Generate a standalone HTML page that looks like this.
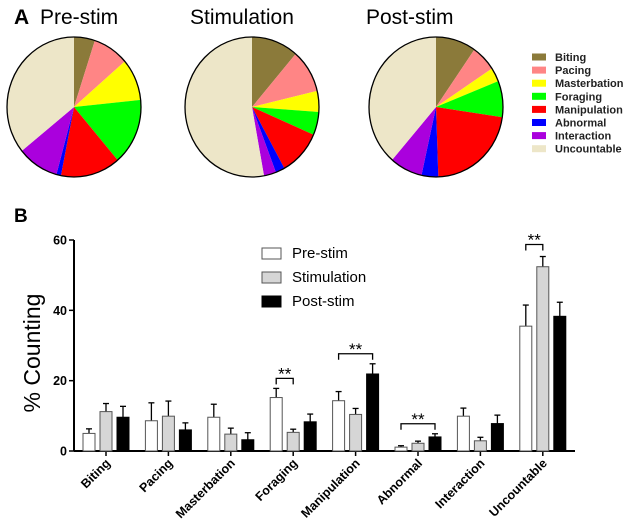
<!DOCTYPE html>
<html><head><meta charset="utf-8"><style>
body{margin:0;background:#fff;}
svg{display:block;font-family:"Liberation Sans",Arial,sans-serif;}
</style></head><body>
<svg id="c" width="625" height="529" viewBox="0 0 625 529">
<text x="14" y="24" font-size="21" font-weight="bold">A</text>
<text x="14" y="222" font-size="19" font-weight="bold">B</text>
<g id="pies"></g>
<g id="plegend"></g>
<g id="bars"></g>
</svg>
<script>
const behaviors=["Biting","Pacing","Masterbation","Foraging","Manipulation","Abnormal","Interaction","Uncountable"];
const sliceColors=["#8b7a3a","#ff8585","#ffff00","#00ff00","#ff0000","#0000ff","#aa00dd","#ede6c8"];
const pieTitles=["Pre-stim","Stimulation","Post-stim"];
const piePre=[5,8.6,9.6,15.2,14.3,1.1,9.9,35.5];
const pieStim=[11.2,9.9,4.8,5.3,10.4,2.2,2.9,52.4];
const piePost=[9.6,6,3.2,8.3,21.9,4,7.8,38.3];
const seriesNames=["Pre-stim","Stimulation","Post-stim"];
const meanPre=[5,8.6,9.6,15.2,14.3,1.1,9.9,35.5];
const errPre=[6.3,13.7,13.3,17.8,16.9,1.5,12.2,41.5];
const meanStim=[11.2,9.9,4.8,5.3,10.4,2.2,2.9,52.4];
const errStim=[13.5,14.2,6.5,6.2,12.1,2.8,3.9,55.3];
const meanPost=[9.6,6,3.2,8.3,21.9,4,7.8,38.3];
const errPost=[12.7,8,5.2,10.5,24.8,4.9,10.2,42.3];
const yTicks=[0,20,40,60];
// significance: [categoryIndex, seriesA, seriesB]
const sigPairs=[[3,0,1],[4,0,2],[5,0,2],[7,0,1]];

const NS="http://www.w3.org/2000/svg";
function mk(tag,attrs,parent){const e=document.createElementNS(NS,tag);for(const k in attrs)e.setAttribute(k,attrs[k]);parent.appendChild(e);return e;}

// pies
const pies=document.getElementById('pies');
const pieData=[piePre,pieStim,piePost];
const pieCx=[74,252,436],pieCy=107,rx=67,ry=70;
const titleX=[40,190,366];
pieData.forEach((d,pi)=>{
  const g=mk('g',{},pies);
  
  
  const t=mk('text',{x:titleX[pi],y:24,'font-size':21},g);t.textContent=pieTitles[pi];
  
  
  const tot=d.reduce((a,b)=>a+b,0);let a0=0;const cx=pieCx[pi];
  d.forEach((v,i)=>{
    const a1=a0+v/tot*2*Math.PI;
    const x0=cx+rx*Math.sin(a0),y0=pieCy-ry*Math.cos(a0),x1=cx+rx*Math.sin(a1),y1=pieCy-ry*Math.cos(a1);
    const p=mk('path',{d:`M${cx},${pieCy}L${x0},${y0}A${rx},${ry} 0 ${a1-a0>Math.PI?1:0} 1 ${x1},${y1}Z`,fill:sliceColors[i]},g);
    
    
    a0=a1;
  });
  mk('ellipse',{cx:cx,cy:pieCy,rx:rx,ry:ry,fill:'none',stroke:'#000','stroke-width':1.3},g);
});
const pl=document.getElementById('plegend');
behaviors.forEach((b,i)=>{
  const y=57+i*13.1;
  const r=mk('rect',{x:532,y:y-3.5,width:14,height:7,fill:sliceColors[i]},pl);
  
  
  const t=mk('text',{x:555,y:y+4,'font-size':11,'font-weight':'bold',fill:'#222'},pl);t.textContent=b;
  
  
});

// bars
const bg=document.getElementById('bars');
const X0=74,XEND=575,Y0=451,Y60=240;
const yS=v=>Y0-(Y0-Y60)*v/60;
const xC=i=>106+i*62.4;
const offs=[-17,0,17],bw=12;
const fills=["#fff","#d6d6d6","#000"];
const means=[meanPre,meanStim,meanPost],errs=[errPre,errStim,errPost];
mk('line',{x1:X0,y1:Y60,x2:X0,y2:Y0,stroke:'#000','stroke-width':2},bg);
mk('line',{x1:X0,y1:Y0,x2:XEND,y2:Y0,stroke:'#000','stroke-width':2},bg);
yTicks.forEach(v=>{
  mk('line',{x1:X0-5,y1:yS(v),x2:X0,y2:yS(v),stroke:'#000','stroke-width':1.5},bg);
  const t=mk('text',{x:X0-7,y:yS(v)+4.5,'font-size':12.5,'font-weight':'bold','text-anchor':'end'},bg);t.textContent=v;
  
  
});
const yl=mk('text',{x:0,y:0,'font-size':23,'text-anchor':'middle',transform:`translate(40,353) rotate(-90)`},bg);yl.textContent="% Counting";


behaviors.forEach((b,i)=>{
  const cx=xC(i);
  mk('line',{x1:cx,y1:Y0,x2:cx,y2:Y0+5,stroke:'#000','stroke-width':1.5},bg);
  const t=mk('text',{x:0,y:0,'font-size':12.5,'font-weight':'bold','text-anchor':'end',transform:`translate(${cx+5},${Y0+13}) rotate(-45)`},bg);t.textContent=b;
  
  
  for(let s=0;s<3;s++){
    const x=cx+offs[s]-bw/2,m=means[s][i],e=errs[s][i];
    mk('line',{x1:cx+offs[s],y1:yS(m),x2:cx+offs[s],y2:yS(e),stroke:'#000','stroke-width':1.3},bg);
    mk('line',{x1:cx+offs[s]-3,y1:yS(e),x2:cx+offs[s]+3,y2:yS(e),stroke:'#000','stroke-width':1.3},bg);
    const r=mk('rect',{x:x,y:yS(m),width:bw,height:Y0-yS(m),fill:fills[s],stroke:s==2?'#000':'#555','stroke-width':1},bg);
    
    
  }
});
sigPairs.forEach(([i,a,b])=>{
  const top=Math.max(errs[a][i],errs[b][i]);
  const y=yS(top)-10-(i==7?2:0);
  const xa=xC(i)+offs[a],xb=xC(i)+offs[b];
  mk('path',{d:`M${xa},${y+6}V${y}H${xb}V${y+6}`,fill:'none',stroke:'#000','stroke-width':1.3},bg);
  const t=mk('text',{x:(xa+xb)/2,y:y+1,'font-size':17,'text-anchor':'middle'},bg);t.textContent="**";
  
  
});
seriesNames.forEach((n,s)=>{
  const y=253+s*24;
  const r=mk('rect',{x:262,y:y-5,width:19,height:11,fill:fills[s],stroke:s==2?'#000':'#555'},bg);
  
  
  const t=mk('text',{x:292,y:y+5,'font-size':15},bg);t.textContent=n;
  
  
});
</script>
</body></html>
